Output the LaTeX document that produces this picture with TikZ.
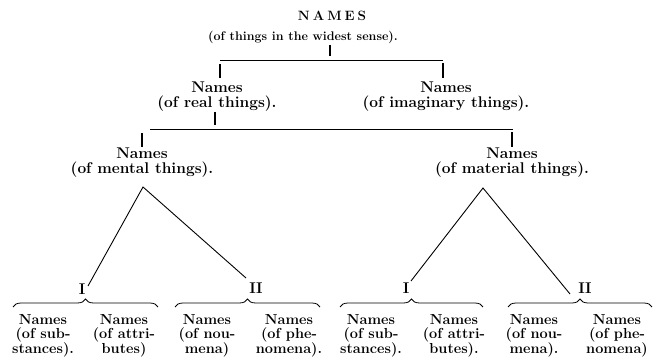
\documentclass[tikz,border=0pt]{standalone}
\usepackage{fontspec}
\usetikzlibrary{decorations.pathreplacing}
\newcommand\labfont{\bfseries\fontsize{15.5}{15}\selectfont}
\newcommand\smallfont{\bfseries\fontsize{12.5}{14}\selectfont}
\newcommand\botfont{\bfseries\fontsize{14.5}{14}\selectfont}
\newcommand\capfont{\bfseries\fontsize{13.5}{14}\selectfont}
\begin{document}
\begin{tikzpicture}[x=1pt,y=-1pt,
  every node/.style={inner sep=0pt, align=center},
  lab/.style={font=\labfont, anchor=north},
  bot/.style={font=\botfont, anchor=north},
  num/.style={font=\labfont},
  tick/.style={line width=1.4pt},
  rule/.style={line width=0.6pt},
  leg/.style={line width=0.9pt},
  brc/.style={decorate, decoration={brace, amplitude=8pt}, line width=0.8pt}]
\useasboundingbox (0,0) rectangle (654,363);

% top
\node[font=\capfont, anchor=north] (top) at (332,11) {N\kern3pt A\kern3pt M\kern3pt E\kern3pt S};
\node[font=\smallfont, anchor=north] (topsub) at (303,31) {(of things in the widest sense).};

% level 2
\node[lab] (real) at (217,82) {Names\\(of real things).};
\node[lab] (imag) at (446,82) {Names\\(of imaginary things).};

\coordinate (a1) at (330,45); \coordinate (a2) at (330,56);
\coordinate (h1l) at (220,60); \coordinate (h1r) at (443,60);
\coordinate (b1) at (220,64); \coordinate (b2) at (220,78);
\coordinate (c1) at (443,63); \coordinate (c2) at (443,78);
\draw[tick] (a1) -- (a2);
\draw[rule] (h1l) -- (h1r);
\draw[tick] (b1) -- (b2);
\draw[tick] (c1) -- (c2);

% level 3
\node[lab] (mental) at (142,148) {Names\\(of mental things).};
\node[lab] (material) at (512,148) {Names\\(of material things).};

\coordinate (d1) at (215,112); \coordinate (d2) at (215,125);
\coordinate (h2l) at (150,129); \coordinate (h2r) at (513,129);
\coordinate (e1) at (142,133); \coordinate (e2) at (142,147);
\coordinate (f1) at (512,132); \coordinate (f2) at (512,147);
\draw[tick] (d1) -- (d2);
\draw[rule] (h2l) -- (h2r);
\draw[tick] (e1) -- (e2);
\draw[tick] (f1) -- (f2);

% numerals
\node[num] (mI) at (82,289) {I};
\node[num] (mII) at (256,288) {II};
\node[num] (pI) at (406,288) {I};
\node[num] (pII) at (585,288) {II};

% triangles
\coordinate (apL) at (143,187);
\coordinate (apR) at (483,188);
\coordinate (eLI) at (88,286);
\coordinate (eLII) at (246,278);
\coordinate (eRI) at (411,281);
\coordinate (eRII) at (570,294);
\draw[leg] (eLI) -- (apL) -- (eLII);
\draw[leg] (eRI) -- (apR) -- (eRII);

% braces
\coordinate (g1) at (13,307); \coordinate (g2) at (158,307);
\coordinate (g3) at (175,307); \coordinate (g4) at (320,307);
\coordinate (g5) at (340,307); \coordinate (g6) at (483,307);
\coordinate (g7) at (508,307); \coordinate (g8) at (652,307);
\draw[brc] (g1) -- (g2);
\draw[brc] (g3) -- (g4);
\draw[brc] (g5) -- (g6);
\draw[brc] (g7) -- (g8);

% bottom
\node[bot] (n1) at (43,314) {Names\\(of sub-\\stances).};
\node[bot] (n2) at (124,314) {Names\\(of attri-\\butes)};
\node[bot] (n3) at (207,314) {Names\\(of nou-\\mena)};
\node[bot] (n4) at (289,314) {Names\\(of phe-\\nomena).};
\node[bot] (n5) at (371,314) {Names\\(of sub-\\stances).};
\node[bot] (n6) at (454,314) {Names\\(of attri-\\butes).};
\node[bot] (n7) at (534,314) {Names\\(of nou-\\mena).};
\node[bot] (n8) at (617,314) {Names\\(of phe-\\nomena)};
\end{tikzpicture}
\end{document}
